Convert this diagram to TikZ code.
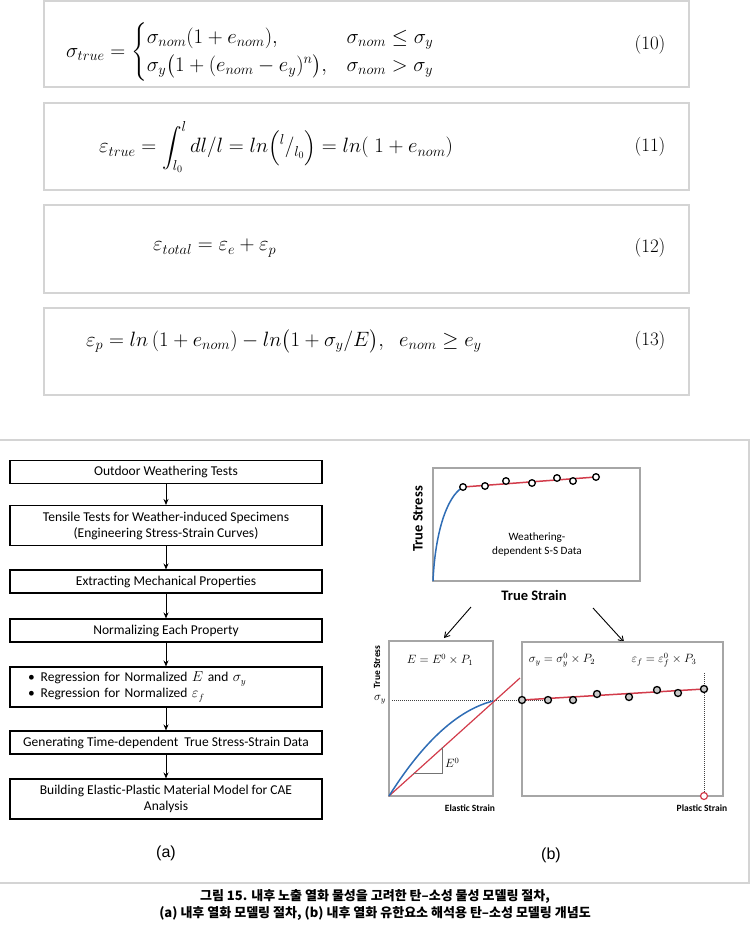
\documentclass[tikz,border=0pt]{standalone}
\usepackage{amsmath,amssymb}
\usepackage{fontspec}
\newfontfamily\calibri{Carlito}
\newfontfamily\arial{Liberation Sans}
\newfontfamily\kr{Noto Sans CJK KR}
\usetikzlibrary{arrows.meta,positioning}
\definecolor{eqgray}{HTML}{D4D4D4}
\definecolor{framegray}{HTML}{A6A6A6}
\definecolor{curveblue}{HTML}{2F6DB5}
\definecolor{linered}{HTML}{D23C4B}
\definecolor{dotgray}{HTML}{C8C8C8}

\begin{document}
\begin{tikzpicture}[x=1pt,y=-1pt,
    eqbox/.style={draw=eqgray,line width=1.2pt},
    eqtext/.style={anchor=west,inner sep=0pt,font=\fontsize{19.5}{23}\selectfont},
    eqnum/.style={inner sep=0pt,font=\fontsize{19}{22}\selectfont},
    flowbox/.style={draw,line width=1.1pt,minimum width=312pt,minimum height=23pt,inner sep=2pt,align=center,font=\calibri\fontsize{13.5}{16}\selectfont},
    flowarrow/.style={-{Stealth[length=6pt,width=5pt]},line width=1pt},
    plotframe/.style={draw=framegray,line width=1.2pt},
    splitarrow/.style={-{Straight Barb[length=5pt,width=6pt]},line width=0.9pt},
    opendot/.style={draw,line width=1.3pt,fill=white},
    greydot/.style={draw,line width=1.3pt,fill=dotgray},
    axislabel/.style={inner sep=0pt,font=\calibri\bfseries\fontsize{9.5}{11}\selectfont},
    mathlabel/.style={inner sep=0pt,font=\fontsize{12}{14}\selectfont},
    sublabel/.style={inner sep=0pt,font=\arial\fontsize{16}{18}\selectfont}]
    \useasboundingbox (0,0) rectangle (750,932);

    % equations (10)-(13)
    \draw[eqbox] (44,1) rectangle (689,87);
    \draw[eqbox] (44,103) rectangle (689,190);
    \draw[eqbox] (44,205) rectangle (689,293);
    \draw[eqbox] (44,308) rectangle (689,395);
    \node[eqtext] (eqten) at (66,52) {$\sigma_{true}=\begin{cases}\sigma_{nom}(1+e_{nom}), & \sigma_{nom}\le\sigma_y\\ \sigma_y\bigl(1+(e_{nom}-e_y)^n\bigr), & \sigma_{nom}>\sigma_y\end{cases}$};
    \node[eqtext] (eqeleven) at (99,147) {$\displaystyle\varepsilon_{true}=\int_{l_0}^{l} dl/l = ln\Bigl({}^{l}/_{l_0}\Bigr)=ln(\ 1+e_{nom})$};
    \node[eqtext] (eqtwelve) at (153,248) {$\varepsilon_{total}=\varepsilon_e+\varepsilon_p$};
    \node[eqtext] (eqthirteen) at (86,341) {$\varepsilon_p = ln\,(1+e_{nom}) - ln\bigl(1+\sigma_y/E\bigr),\ \ e_{nom}\ge e_y$};
    \node[eqnum] (numten) at (650,45) {(10)};
    \node[eqnum] (numeleven) at (650,147) {(11)};
    \node[eqnum] (numtwelve) at (650,248) {(12)};
    \node[eqnum] (numthirteen) at (650,341) {(13)};

    % figure frame
    \draw[eqgray,line width=1.2pt] (-1,440) rectangle (749,883);

    % (a) modelling procedure
    \node[flowbox] (outdoor) at (166,472) {Outdoor Weathering Tests};
    \node[flowbox,minimum height=40pt] (tensile) at (166,525.5) {Tensile Tests for Weather-induced Specimens\\(Engineering Stress-Strain Curves)};
    \node[flowbox] (extract) at (166,581.5) {Extracting Mechanical Properties};
    \node[flowbox] (normal) at (166,630.5) {Normalizing Each Property};
    \node[flowbox,minimum height=40pt,align=left,text width=276pt] (regress) at (166,687) {\textbullet\hspace{6pt}Regression for Normalized $E$ and $\sigma_y$\\\textbullet\hspace{6pt}Regression for Normalized $\varepsilon_f$};
    \node[flowbox] (generate) at (166,742.5) {Generating Time-dependent\ \ True Stress-Strain Data};
    \node[flowbox,minimum height=40pt] (build) at (166,799) {Building Elastic-Plastic Material Model for CAE\\Analysis};
    \draw[flowarrow] (outdoor) -- (tensile);
    \draw[flowarrow] (tensile) -- (extract);
    \draw[flowarrow] (extract) -- (normal);
    \draw[flowarrow] (normal) -- (regress);
    \draw[flowarrow] (regress) -- (generate);
    \draw[flowarrow] (generate) -- (build);
    \node[sublabel] (labela) at (166,853) {(a)};

    % (b) weathering S-S data
    \draw[plotframe] (433,468) rectangle (640,581);
    \draw[curveblue,line width=1.5pt] (433,581) .. controls (435,535) and (446,497) .. (463,487);
    \draw[linered,line width=1.5pt] (463,487) -- (596,477);
    \foreach \px/\py in {463/487,485/486,506/481,532/483,557/478,573/481,596/477}
        \draw[opendot] (\px,\py) circle[radius=3.3pt];
    \node[rotate=90,inner sep=0pt,font=\calibri\bfseries\fontsize{14.5}{16}\selectfont] (ssstress) at (418,519) {True Stress};
    \node[inner sep=0pt,font=\calibri\bfseries\fontsize{14.5}{16}\selectfont] (ssstrain) at (534,595) {True Strain};
    \node[align=center,inner sep=0pt,font=\calibri\fontsize{11.2}{14}\selectfont] (ssdata) at (537,545) {Weathering-\\dependent S-S Data};
    \coordinate (splitl) at (471,607);
    \coordinate (elastictop) at (444,638);
    \coordinate (splitr) at (593,608);
    \coordinate (plastictop) at (624,642);
    \draw[splitarrow] (splitl) -- (elastictop);
    \draw[splitarrow] (splitr) -- (plastictop);

    % elastic part
    \draw[plotframe] (389,641) rectangle (493,796);
    \draw[densely dotted,line width=1pt,black!75] (392,700) -- (548,700);
    \draw[linered,line width=1.2pt] (389,796) -- (520,678);
    \draw[curveblue,line width=1.5pt] (389,796) .. controls (415,755) and (450,712) .. (493,701);
    \draw[black!55,line width=1pt] (413,773) -- (442,773) -- (442,747);
    \node[mathlabel,anchor=west] (slope) at (445,763) {$E^0$};
    \node[mathlabel] (sigylab) at (380,700) {$\sigma_y$};
    \node[mathlabel] (emod) at (440,660) {$E=E^0\times P_1$};
    \node[axislabel,rotate=90] (elstress) at (377,667) {True Stress};
    \node[axislabel] (elstrain) at (470,808) {Elastic Strain};

    % plastic part
    \draw[plotframe] (522,642) rectangle (723,796);
    \draw[densely dotted,line width=1pt,black!75] (704,673) -- (704,793);
    \draw[linered,line width=1.5pt] (522,700) -- (704,689);
    \foreach \px/\py in {522/700,548/700,573/700,597/694,629/697,657/690,678/693,704/689}
        \draw[greydot] (\px,\py) circle[radius=3.5pt];
    \draw[linered,line width=1.2pt,fill=white] (704,796) circle[radius=3.5pt];
    \node[mathlabel] (yieldlab) at (562,660) {$\sigma_y=\sigma_y^0\times P_2$};
    \node[mathlabel] (faillab) at (664,660) {$\varepsilon_f=\varepsilon_f^0\times P_3$};
    \node[axislabel] (plstrain) at (702,808) {Plastic Strain};
    \node[sublabel] (labelb) at (551,855) {(b)};

    % caption
    \node[align=center,inner sep=0pt,font=\kr\bfseries\fontsize{13}{17}\selectfont] (caption) at (375,905) {그림 15. 내후 노출 열화 물성을 고려한 탄–소성 물성 모델링 절차,\\(a) 내후 열화 모델링 절차, (b) 내후 열화 유한요소 해석용 탄–소성 모델링 개념도};
\end{tikzpicture}
\end{document}
